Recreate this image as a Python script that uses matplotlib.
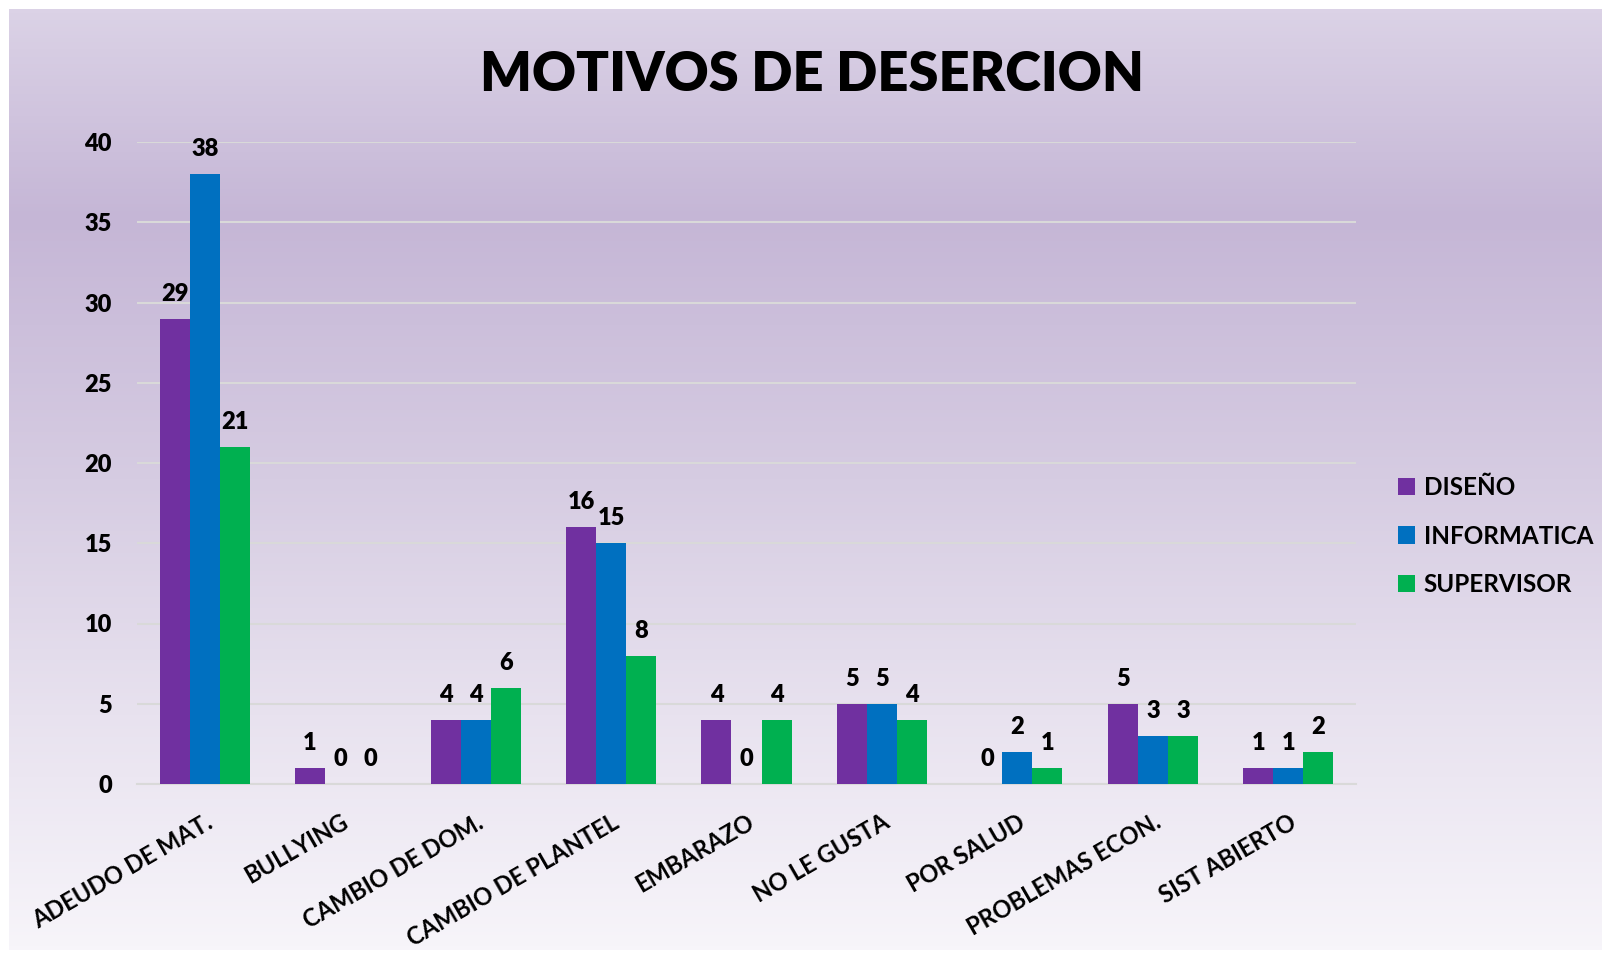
import matplotlib.pyplot as plt
import numpy as np
from matplotlib.colors import LinearSegmentedColormap

plt.rcParams['font.family'] = ['Lato', 'DejaVu Sans']
plt.rcParams['font.weight'] = 'bold'

categories = ['ADEUDO DE MAT.', 'BULLYING', 'CAMBIO DE DOM.', 'CAMBIO DE PLANTEL',
              'EMBARAZO', 'NO LE GUSTA', 'POR SALUD', 'PROBLEMAS ECON.', 'SIST ABIERTO']
diseno = [29, 1, 4, 16, 4, 5, 0, 5, 1]
informatica = [38, 0, 4, 15, 0, 5, 2, 3, 1]
supervisor = [21, 0, 6, 8, 4, 4, 1, 3, 2]
series_names = ['DISEÑO', 'INFORMATICA', 'SUPERVISOR']
colors = ['#7030A0', '#0070C0', '#00B050']

W, H = 1602, 959
fig = plt.figure(figsize=(W / 100, H / 100), dpi=100)
fig.patch.set_facecolor('white')

# gradient background panel
bg = fig.add_axes([9 / W, 9 / H, 1 - 9 / W, 1 - 18 / H])
grad_cmap = LinearSegmentedColormap.from_list('bg', [
    (0.0, (219 / 255, 210 / 255, 230 / 255)),
    (0.22, (197 / 255, 182 / 255, 214 / 255)),
    (0.5, (214 / 255, 204 / 255, 226 / 255)),
    (0.75, (232 / 255, 226 / 255, 239 / 255)),
    (1.0, (247 / 255, 245 / 255, 250 / 255)),
])
bg.imshow(np.linspace(0, 1, 256).reshape(-1, 1), aspect='auto', cmap=grad_cmap,
          extent=[0, 1, 0, 1], origin='upper')
bg.axis('off')

ax = fig.add_axes([137 / W, 1 - 784 / H, (1356 - 137) / W, (784 - 142) / H])
ax.set_facecolor('none')

x = np.arange(len(categories))
bw = 0.222
for i, (name, vals) in enumerate(zip(series_names, [diseno, informatica, supervisor])):
    pos = x + (i - 1) * bw
    ax.bar(pos, vals, bw, color=colors[i], label=name, zorder=3)
    for xp, v in zip(pos, vals):
        ax.annotate(str(v), (xp, v), xytext=(0, 10), textcoords='offset points',
                    ha='center', va='bottom', fontsize=17, fontweight='heavy')

ax.set_xlim(-0.5, len(categories) - 0.5)
ax.set_ylim(0, 40)
ax.set_yticks(range(0, 41, 5))
ax.grid(axis='y', color='#d9d9d9', linewidth=1.5, zorder=0)
ax.set_axisbelow(True)
for s in ['top', 'right', 'left']:
    ax.spines[s].set_visible(False)
ax.spines['bottom'].set_color('#d9d9d9')
ax.spines['bottom'].set_linewidth(1.5)
ax.tick_params(axis='both', length=0, labelsize=17)
ax.tick_params(axis='y', pad=18)
ax.set_xticks(x)
ax.set_xticklabels(categories, rotation=30, ha='right', rotation_mode='anchor',
                   fontsize=17, fontweight='bold')
ax.tick_params(axis='x', pad=19)
for lbl in ax.get_yticklabels():
    lbl.set_fontweight('heavy')

fig.text(812 / W, 1 - 75 / H, 'MOTIVOS DE DESERCION', ha='center', va='center',
         fontsize=39, fontweight='heavy')

ax.legend(loc='center left', bbox_to_anchor=(1398 / W, 1 - 536 / H),
          bbox_transform=fig.transFigure, frameon=False, borderpad=0, borderaxespad=0,
          prop={'weight': 'bold', 'size': 17.5}, handlelength=0.7,
          handleheight=0.7, handletextpad=0.35, labelspacing=1.05)

fig.savefig('out.png', dpi=100)
